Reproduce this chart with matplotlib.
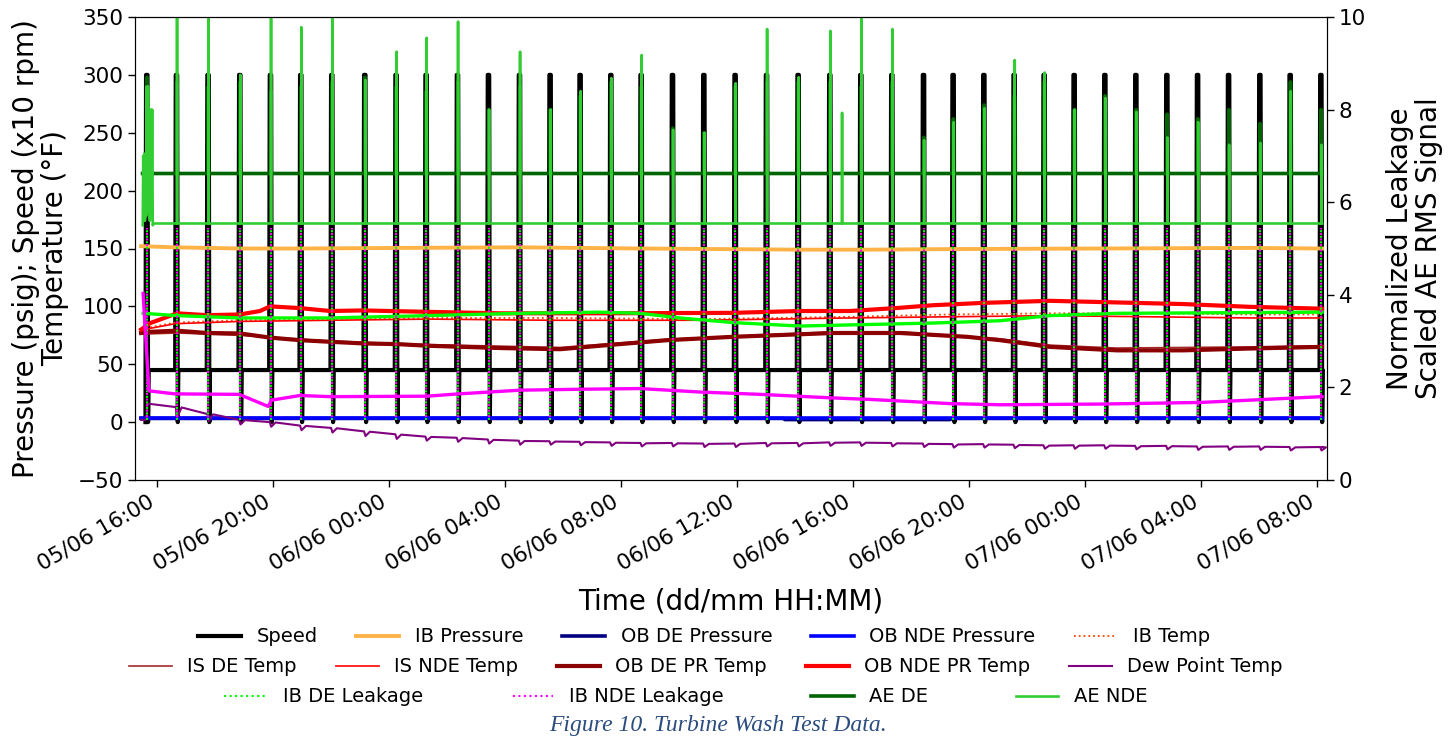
import numpy as np
import matplotlib
matplotlib.use("Agg")
import matplotlib.pyplot as plt
import matplotlib.dates as mdates

# ---------------------------------------------------------------------------
# Time base: all times are hours after 05/06 16:00
# ---------------------------------------------------------------------------
T0 = mdates.date2num(np.datetime64("2019-06-05T16:00"))
X_START, X_END = -0.76, 40.34          # axis window (hours)
DATA_END = 40.17

# wash cycles (speed run-ups)
event_hours = [-0.379, 0.645, 1.734, 2.828, 3.886, 4.931, 6.000, 7.138, 8.217,
               9.252, 10.334, 11.403, 12.472, 13.528, 14.562, 15.621, 16.666,
               17.748, 18.828, 19.907, 20.990, 22.079, 23.172, 24.241, 25.310,
               26.403, 27.424, 28.483, 29.528, 30.562, 31.597, 32.655, 33.724,
               34.793, 35.852, 36.921, 38.000, 39.045, 40.103]

# speed (x10 rpm)
speed_idle = 45.0
speed_peak = 300.0
speed_low = 0.0

# pressures (psig)
ib_press_h = [-0.55, 0.62, 2.86, 4.93, 8.38, 12.52, 16.66, 22.17, 24.59, 27.34, 32.52, 37.69, 40.17]
ib_press_v = [152, 151, 150, 150, 150.5, 151, 150, 149, 149, 149.5, 150, 150.5, 150]
ob_de_press_h = [-0.55, 21.6, 21.65, 27.35, 27.4, 40.17]
ob_de_press_v = [3.2, 3.2, 2.2, 2.2, 3.2, 3.2]
ob_nde_press_h = [-0.55, 40.17]
ob_nde_press_v = [3.4, 3.4]

# temperatures (deg F)
ib_temp_h = [-0.55, -0.24, 0.62, 2.86, 5.97, 9.41, 13.55, 18.72, 23.90, 27.34, 30.79, 34.24, 37.69, 40.17]
ib_temp_v = [79, 82, 86, 88, 89, 90, 90, 89, 91, 93, 94, 94, 93, 93]
is_nde_temp_v = [78, 81, 85, 87, 88, 89, 88, 88, 90, 91, 92, 91, 90, 90]

is_de_temp_h = [-0.55, 0.69, 2.86, 5.97, 9.31, 13.90, 17.59, 23.31, 25.62, 29.07, 30.79, 33.10, 37.69, 40.17]
is_de_temp_v = [76, 77, 75, 70, 67, 64.5, 71.5, 78, 78, 72, 66.5, 64, 65, 66]

ob_de_pr_h = [-0.55, -0.24, 0.69, 1.72, 2.86, 3.90, 4.93, 5.97, 7.10, 8.28, 9.31, 11.83, 13.90,
              15.28, 17.59, 19.86, 23.31, 25.62, 27.93, 29.07, 30.79, 33.10, 35.38, 37.69, 40.17]
ob_de_pr_v = [77, 78, 79, 77, 76.6, 73, 70.8, 69.4, 68, 67.4, 66, 64, 63,
              66, 70.8, 73.7, 77, 77, 73.7, 70.8, 65, 62, 62, 63.6, 65]

ob_nde_pr_h = [-0.55, -0.24, 0.69, 1.72, 2.86, 3.55, 3.90, 4.93, 5.97, 7.10, 9.31, 11.83, 15.28,
               19.86, 22.17, 23.90, 25.62, 26.76, 28.48, 30.79, 33.10, 35.38, 37.69, 40.17]
ob_nde_pr_v = [80, 85.5, 94, 92.4, 93, 96, 100, 98.5, 96, 96.5, 95.3, 94, 94,
               94.4, 96, 96, 98.8, 101, 103, 104.8, 103.4, 102, 99.6, 98]

# dew point: level just before each wash and the dip it makes
dew_start = [2.0, 16.0]
dew_levels = [2, 13, 7, 2, 0, -3, -5, -8, -10.5, -12.5, -13.5, -15, -16, -16.5,
              -17, -17.5, -18, -18, -18.5, -18.5, -18, -18, -17.5, -17.5, -18,
              -18.5, -19, -19, -19.5, -20, -20, -20, -20.5, -20.5, -21, -21, -21,
              -21.5, -21.5]
dew_dips = [0, 9, 6, 4, 4, 4, 4, 4, 4, 3.5, 3.5, 3.5, 3.5, 3, 3, 3, 3, 3, 3, 3,
            3, 3, 3, 3, 3, 3, 3, 3, 3, 3, 3, 3, 3, 3, 3, 3, 3, 3, 3]

# normalized leakage (right axis)
ib_de_leak_h = [-0.48, 0.69, 2.86, 5.97, 9.31, 12.52, 15.28, 16.66, 18.03, 19.86,
                22.17, 23.90, 26.76, 29.07, 30.79, 33.10, 35.97, 40.17]
ib_de_leak_v = [3.60, 3.55, 3.50, 3.50, 3.55, 3.60, 3.625, 3.60, 3.50, 3.40,
                3.325, 3.35, 3.39, 3.44, 3.55, 3.60, 3.61, 3.625]
ib_nde_leak_h = [-0.48, -0.28, 0.62, 2.83, 3.83, 3.95, 4.93, 5.97, 9.31, 10.40,
                 12.52, 14.59, 16.66, 18.72, 20.79, 23.21, 24.59, 27.34, 29.07,
                 32.52, 35.97, 37.69, 40.17]
ib_nde_leak_v = [4.03, 1.925, 1.86, 1.85, 1.59, 1.725, 1.825, 1.80, 1.81, 1.86,
                 1.94, 1.96, 1.975, 1.90, 1.85, 1.775, 1.74, 1.65, 1.625,
                 1.64, 1.675, 1.725, 1.80]
leak_spike_low = 1.3
leak_spike_high = 5.45

# scaled AE RMS (right axis)
ae_de_base = 6.62
ae_de_peaks = [8.7, 8.6, 8.5, 8.6, 8.4, 8.5, 8.6, 8.7, 8.5, 8.4, 8.6, 8.0, 8.5,
               8.0, 8.3, 8.6, 8.5, 7.6, 7.5, 8.5, 8.6, 8.6, 8.6, 8.5, 8.6, 7.4,
               7.8, 8.1, 8.3, 8.6, 8.0, 8.3, 8.0, 7.9, 7.8, 8.0, 7.7, 8.6, 8.0]
ae_nde_base = 5.54
ae_nde_peaks = [8.5, 10.5, 10.5, 8.75, 10.5, 9.78, 10.5, 8.64, 9.25, 9.55, 9.9,
                8.0, 9.25, 8.0, 8.4, 8.68, 9.18, 7.56, 7.5, 8.57, 9.74, 8.7,
                9.7, 10.5, 9.74, 7.34, 7.73, 8.03, 9.07, 8.8, 8.0, 8.25, 7.95,
                7.4, 7.73, 7.24, 7.28, 8.4, 7.24]
ae_nde_extra_h = [23.62]
ae_nde_extra_v = [7.93]
# start-up burst on the first run-up
ae_nde_burst_h = [-0.493, -0.476, -0.459, -0.438, -0.417, -0.397, -0.376, -0.355,
                  -0.335, -0.310, -0.290, -0.269, -0.248, -0.228, -0.210, -0.190,
                  -0.169, -0.148, -0.12]
ae_nde_burst_v = [5.5, 7.0, 5.6, 7.05, 5.6, 7.0, 5.7, 8.5, 6.0, 8.5, 5.8, 7.0,
                  5.6, 7.0, 8.0, 5.8, 8.0, 5.5, 5.54]

legend_rows = [
    ["Speed", "IB Pressure", "OB DE Pressure", "OB NDE Pressure", "IB Temp"],
    ["IS DE Temp", "IS NDE Temp", "OB DE PR Temp", "OB NDE PR Temp", "Dew Point Temp"],
    ["IB DE Leakage", "IB NDE Leakage", "AE DE", "AE NDE"],
]
x_ticks_every_h = 4

# run-up shape (hours): rise, hold at top, fall to zero, back to idle
RUN_HOLD, RUN_FALL, RUN_BACK = 0.05, 0.07, 0.09
MID = 0.035                             # centre of a run-up bar


def tx(hours):
    """hours after T0 -> matplotlib date numbers"""
    return T0 + np.asarray(hours, dtype=float) / 24.0


# ---------------------------------------------------------------------------
# traces built from the tables above
# ---------------------------------------------------------------------------
sp_h, sp_v = [], []
for i, t in enumerate(event_hours):
    pre = speed_low if i == 0 else speed_idle
    sp_h += [t - 0.02, t, t + RUN_HOLD, t + RUN_FALL, t + RUN_BACK]
    sp_v += [pre, speed_peak, speed_peak, speed_low, speed_idle]
sp_h.append(DATA_END)
sp_v.append(speed_idle)

dew_h = [-0.55, event_hours[0], event_hours[0] + 0.05]
dew_v = [dew_start[0], dew_levels[0], dew_start[1]]
for t, lv, dp in zip(event_hours[1:], dew_levels[1:], dew_dips[1:]):
    dew_h += [t, t + 0.05, t + 0.2]
    dew_v += [lv, lv - dp, lv - 0.3]
dew_h.append(DATA_END)
dew_v.append(dew_levels[-1])

leak_sp_h, leak_sp_v = [], []
for t in event_hours:
    leak_sp_h += [t + MID, t + MID, np.nan]
    leak_sp_v += [leak_spike_low, leak_spike_high, np.nan]

ae_de_h, ae_de_v = [-0.50], [ae_de_base]
for t, pk in zip(event_hours, ae_de_peaks):
    ae_de_h += [t + MID - 0.01, t + MID, t + MID + 0.01]
    ae_de_v += [ae_de_base, pk, ae_de_base]
ae_de_h.append(DATA_END)
ae_de_v.append(ae_de_base)

spikes = sorted(list(zip([t + MID + 0.01 for t in event_hours[1:]], ae_nde_peaks[1:])) +
                list(zip(ae_nde_extra_h, ae_nde_extra_v)))
ae_nde_h, ae_nde_v = list(ae_nde_burst_h), list(ae_nde_burst_v)
for t, pk in spikes:
    ae_nde_h += [t - 0.006, t, t + 0.006]
    ae_nde_v += [ae_nde_base, pk, ae_nde_base]
ae_nde_h.append(DATA_END)
ae_nde_v.append(ae_nde_base)

# ---------------------------------------------------------------------------
# figure
# ---------------------------------------------------------------------------
plt.rcParams["font.family"] = "DejaVu Sans"
fig = plt.figure(figsize=(14.49, 7.40), dpi=100)
W, H = 1449, 740
ax = fig.add_axes([135 / W, 1 - 480 / H, (1327 - 135) / W, (480 - 17) / H])
ax2 = ax.twinx()

h = {}
h["Speed"], = ax.plot(tx(sp_h), sp_v, color="black", lw=3.0,
                      solid_joinstyle="round", label="Speed")
h["IB Pressure"], = ax.plot(tx(ib_press_h), ib_press_v, color="#FFB347", lw=2.8)
h["OB DE Pressure"], = ax.plot(tx(ob_de_press_h), ob_de_press_v, color="#000080", lw=2.6)
h["OB NDE Pressure"], = ax.plot(tx(ob_nde_press_h), ob_nde_press_v, color="#0000FF", lw=2.6)
h["IB Temp"], = ax.plot(tx(ib_temp_h), ib_temp_v, color="#FF4500", lw=1.3, ls=":")
h["IS DE Temp"], = ax.plot(tx(is_de_temp_h), is_de_temp_v, color="#A52A2A", lw=1.2)
h["IS NDE Temp"], = ax.plot(tx(ib_temp_h), is_nde_temp_v, color="#FF0000", lw=1.2)
h["OB DE PR Temp"], = ax.plot(tx(ob_de_pr_h), ob_de_pr_v, color="#8B0000", lw=3.0)
h["OB NDE PR Temp"], = ax.plot(tx(ob_nde_pr_h), ob_nde_pr_v, color="#FF0000", lw=3.0)
h["Dew Point Temp"], = ax.plot(tx(dew_h), dew_v, color="#800080", lw=1.5)

ax2.plot(tx(ib_de_leak_h), ib_de_leak_v, color="#00FF00", lw=2.4)
h["IB DE Leakage"], = ax2.plot(tx(leak_sp_h), leak_sp_v, color="#00FF00", lw=1.5, ls=":")
ax2.plot(tx(ib_nde_leak_h), ib_nde_leak_v, color="#FF00FF", lw=2.4)
h["IB NDE Leakage"], = ax2.plot(tx(leak_sp_h), leak_sp_v, color="#FF00FF", lw=1.5,
                                ls=(1.3, (1, 1.65)))
h["AE DE"], = ax2.plot(tx(ae_de_h), ae_de_v, color="#006400", lw=2.6)
h["AE NDE"], = ax2.plot(tx(ae_nde_h), ae_nde_v, color="#32CD32", lw=1.9)

# axes limits and ticks
ax.set_xlim(tx(X_START), tx(X_END))
ax.set_ylim(-50, 350)
ax.set_yticks(np.arange(-50, 351, 50))
ax2.set_ylim(0, 10)
ax2.set_yticks(np.arange(0, 11, 2))

ax.xaxis.set_major_locator(mdates.HourLocator(byhour=range(0, 24, x_ticks_every_h)))
ax.xaxis.set_major_formatter(mdates.DateFormatter("%d/%m %H:%M"))
for lab in ax.get_xticklabels():
    lab.set_rotation(30)
    lab.set_ha("right")

tick_fs = 15.5
ax.tick_params(axis="both", labelsize=tick_fs, length=5, width=1)
ax2.tick_params(axis="y", labelsize=tick_fs, length=5, width=1)

ax.set_ylabel("Pressure (psig); Speed (x10 rpm)\nTemperature (\u00b0F)", fontsize=20,
              labelpad=6, linespacing=1.05)
ax2.set_ylabel("Normalized Leakage\nScaled AE RMS Signal", fontsize=20,
               labelpad=14, linespacing=1.05)
ax.set_xlabel("Time (dd/mm HH:MM)", fontsize=20, labelpad=9)

# legend, one centred row per group
row_y = [637, 667, 697]
row_cx = [704, 706, 686]
row_spacing = [2.0, 2.0, 4.5]
for names, y, cx, cs in zip(legend_rows, row_y, row_cx, row_spacing):
    fig.legend([h[n] for n in names], names, loc="center",
               bbox_to_anchor=(cx / W, 1 - y / H), ncol=len(names),
               frameon=False, fontsize=14, handlelength=2.2,
               columnspacing=cs, borderpad=0, borderaxespad=0)

fig.text(718 / W, 1 - 726 / H, "Figure 10. Turbine Wash Test Data.",
         ha="center", va="center", fontsize=17, style="italic",
         family="Liberation Serif", color="#2B4C7E")

fig.savefig("out.png", dpi=100)
